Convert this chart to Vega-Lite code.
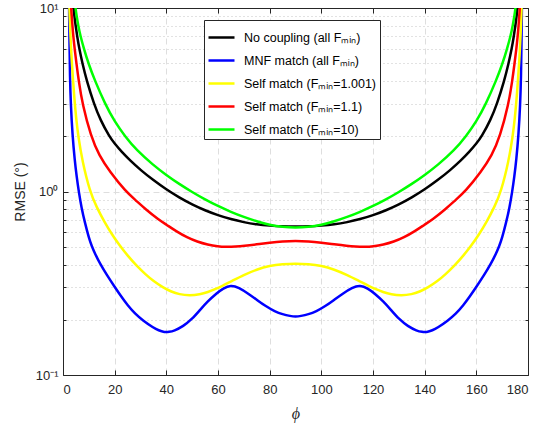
{
 "$schema": "https://vega.github.io/schema/vega-lite/v6.json",
 "width": 465, "height": 367,
 "autosize": {"type": "none"},
 "padding": {"left": 63, "top": 8, "right": 11, "bottom": 48},
 "background": "white",
 "config": {"view": {"stroke": null}, "font": "Liberation Sans"},
 "data": {"values": [
  {"s":"nc","x":3.3,"y":13},{"s":"nc","x":4,"y":10.3},{"s":"nc","x":4.4,"y":9},{"s":"nc","x":4.9,"y":8},{"s":"nc","x":5.5,"y":7},{"s":"nc","x":6.3,"y":6},{"s":"nc","x":7.5,"y":5},{"s":"nc","x":9.2,"y":4},{"s":"nc","x":12,"y":3},{"s":"nc","x":14.5,"y":2.45},{"s":"nc","x":17.9,"y":2.0},{"s":"nc","x":20,"y":1.824},{"s":"nc","x":22.7,"y":1.646},{"s":"nc","x":26,"y":1.475},{"s":"nc","x":30,"y":1.311},{"s":"nc","x":35,"y":1.151},{"s":"nc","x":40,"y":1.026},{"s":"nc","x":45,"y":0.927},{"s":"nc","x":50,"y":0.849},{"s":"nc","x":55,"y":0.789},{"s":"nc","x":60,"y":0.742},{"s":"nc","x":65,"y":0.706},{"s":"nc","x":70,"y":0.68},{"s":"nc","x":75,"y":0.661},{"s":"nc","x":80,"y":0.651},{"s":"nc","x":85,"y":0.645},{"s":"nc","x":90,"y":0.644},
  {"s":"nc","x":95,"y":0.645},{"s":"nc","x":100,"y":0.651},{"s":"nc","x":105,"y":0.661},{"s":"nc","x":110,"y":0.68},{"s":"nc","x":115,"y":0.706},{"s":"nc","x":120,"y":0.742},{"s":"nc","x":125,"y":0.789},{"s":"nc","x":130,"y":0.849},{"s":"nc","x":135,"y":0.927},{"s":"nc","x":140,"y":1.026},{"s":"nc","x":145,"y":1.151},{"s":"nc","x":150,"y":1.311},{"s":"nc","x":154,"y":1.475},{"s":"nc","x":157.3,"y":1.646},{"s":"nc","x":160,"y":1.824},{"s":"nc","x":162.1,"y":2.0},{"s":"nc","x":165.5,"y":2.45},{"s":"nc","x":168,"y":3},{"s":"nc","x":170.8,"y":4},{"s":"nc","x":172.5,"y":5},{"s":"nc","x":173.7,"y":6},{"s":"nc","x":174.5,"y":7},{"s":"nc","x":175.1,"y":8},{"s":"nc","x":175.6,"y":9},{"s":"nc","x":176,"y":10.3},{"s":"nc","x":176.7,"y":13},

  {"s":"mnf","x":2.3,"y":12},{"s":"mnf","x":2.5,"y":6.5},{"s":"mnf","x":2.7,"y":4.2},{"s":"mnf","x":3.0,"y":3.0},{"s":"mnf","x":3.7,"y":2.0},{"s":"mnf","x":4.5,"y":1.5},{"s":"mnf","x":5.3,"y":1.2},{"s":"mnf","x":6.1,"y":1.0},{"s":"mnf","x":7.2,"y":0.81},{"s":"mnf","x":8.5,"y":0.675},{"s":"mnf","x":10,"y":0.56},{"s":"mnf","x":11.1,"y":0.505},{"s":"mnf","x":12.5,"y":0.455},{"s":"mnf","x":14.3,"y":0.405},{"s":"mnf","x":17,"y":0.35},{"s":"mnf","x":20,"y":0.302},{"s":"mnf","x":22.5,"y":0.268},{"s":"mnf","x":25,"y":0.24},{"s":"mnf","x":28,"y":0.215},{"s":"mnf","x":31,"y":0.198},{"s":"mnf","x":35,"y":0.181},{"s":"mnf","x":37,"y":0.175},{"s":"mnf","x":39.3,"y":0.171},{"s":"mnf","x":41,"y":0.1715},{"s":"mnf","x":43,"y":0.174},{"s":"mnf","x":46.5,"y":0.184},{"s":"mnf","x":50,"y":0.202},{"s":"mnf","x":53,"y":0.226},{"s":"mnf","x":56,"y":0.252},{"s":"mnf","x":59.5,"y":0.279},{"s":"mnf","x":62,"y":0.297},{"s":"mnf","x":65,"y":0.309},{"s":"mnf","x":68,"y":0.3},{"s":"mnf","x":72,"y":0.276},{"s":"mnf","x":75,"y":0.257},{"s":"mnf","x":78.5,"y":0.237},{"s":"mnf","x":82,"y":0.222},{"s":"mnf","x":85,"y":0.214},{"s":"mnf","x":88,"y":0.2095},{"s":"mnf","x":90,"y":0.208},
  {"s":"mnf","x":92,"y":0.2095},{"s":"mnf","x":95,"y":0.214},{"s":"mnf","x":98,"y":0.222},{"s":"mnf","x":101.5,"y":0.237},{"s":"mnf","x":105,"y":0.257},{"s":"mnf","x":108,"y":0.276},{"s":"mnf","x":112,"y":0.3},{"s":"mnf","x":115,"y":0.309},{"s":"mnf","x":118,"y":0.297},{"s":"mnf","x":120.5,"y":0.279},{"s":"mnf","x":124,"y":0.252},{"s":"mnf","x":127,"y":0.226},{"s":"mnf","x":130,"y":0.202},{"s":"mnf","x":133.5,"y":0.184},{"s":"mnf","x":137,"y":0.174},{"s":"mnf","x":139,"y":0.1715},{"s":"mnf","x":140.7,"y":0.171},{"s":"mnf","x":143,"y":0.175},{"s":"mnf","x":145,"y":0.181},{"s":"mnf","x":149,"y":0.198},{"s":"mnf","x":152,"y":0.215},{"s":"mnf","x":155,"y":0.24},{"s":"mnf","x":157.5,"y":0.268},{"s":"mnf","x":160,"y":0.302},{"s":"mnf","x":163,"y":0.35},{"s":"mnf","x":165.7,"y":0.405},{"s":"mnf","x":167.5,"y":0.455},{"s":"mnf","x":168.9,"y":0.505},{"s":"mnf","x":170,"y":0.56},{"s":"mnf","x":171.5,"y":0.675},{"s":"mnf","x":172.8,"y":0.81},{"s":"mnf","x":173.9,"y":1.0},{"s":"mnf","x":174.7,"y":1.2},{"s":"mnf","x":175.5,"y":1.5},{"s":"mnf","x":176.3,"y":2.0},{"s":"mnf","x":177,"y":3.0},{"s":"mnf","x":177.3,"y":4.2},{"s":"mnf","x":177.5,"y":6.5},{"s":"mnf","x":177.7,"y":12},

  {"s":"y1","x":2.2,"y":13},{"s":"y1","x":2.45,"y":10.3},{"s":"y1","x":2.6,"y":8.9},{"s":"y1","x":2.8,"y":7.5},{"s":"y1","x":3.1,"y":6.1},{"s":"y1","x":3.4,"y":5.1},{"s":"y1","x":3.8,"y":4.2},{"s":"y1","x":4.4,"y":3.2},{"s":"y1","x":5.1,"y":2.5},{"s":"y1","x":5.9,"y":2.0},{"s":"y1","x":7.5,"y":1.46},{"s":"y1","x":10.4,"y":1.0},{"s":"y1","x":13,"y":0.822},{"s":"y1","x":16.2,"y":0.676},{"s":"y1","x":19,"y":0.582},{"s":"y1","x":22,"y":0.506},{"s":"y1","x":25,"y":0.447},{"s":"y1","x":28.4,"y":0.395},{"s":"y1","x":32,"y":0.353},{"s":"y1","x":35,"y":0.325},{"s":"y1","x":38.7,"y":0.3},{"s":"y1","x":42,"y":0.284},{"s":"y1","x":45,"y":0.275},{"s":"y1","x":49,"y":0.271},{"s":"y1","x":53,"y":0.2748},{"s":"y1","x":56,"y":0.2825},{"s":"y1","x":59.5,"y":0.296},{"s":"y1","x":62,"y":0.308},{"s":"y1","x":65,"y":0.323},{"s":"y1","x":70,"y":0.351},{"s":"y1","x":75,"y":0.376},{"s":"y1","x":80,"y":0.394},{"s":"y1","x":85,"y":0.402},{"s":"y1","x":90,"y":0.405},
  {"s":"y1","x":95,"y":0.402},{"s":"y1","x":100,"y":0.394},{"s":"y1","x":105,"y":0.376},{"s":"y1","x":110,"y":0.351},{"s":"y1","x":115,"y":0.323},{"s":"y1","x":118,"y":0.308},{"s":"y1","x":120.5,"y":0.296},{"s":"y1","x":124,"y":0.2825},{"s":"y1","x":127,"y":0.2748},{"s":"y1","x":131,"y":0.271},{"s":"y1","x":135,"y":0.275},{"s":"y1","x":138,"y":0.284},{"s":"y1","x":141.3,"y":0.3},{"s":"y1","x":145,"y":0.325},{"s":"y1","x":148,"y":0.353},{"s":"y1","x":151.6,"y":0.395},{"s":"y1","x":155,"y":0.447},{"s":"y1","x":158,"y":0.506},{"s":"y1","x":161,"y":0.582},{"s":"y1","x":163.8,"y":0.676},{"s":"y1","x":167,"y":0.822},{"s":"y1","x":169.6,"y":1.0},{"s":"y1","x":172.5,"y":1.46},{"s":"y1","x":174.1,"y":2.0},{"s":"y1","x":174.9,"y":2.5},{"s":"y1","x":175.6,"y":3.2},{"s":"y1","x":176.2,"y":4.2},{"s":"y1","x":176.6,"y":5.1},{"s":"y1","x":176.9,"y":6.1},{"s":"y1","x":177.2,"y":7.5},{"s":"y1","x":177.4,"y":8.9},{"s":"y1","x":177.55,"y":10.3},{"s":"y1","x":177.8,"y":13},

  {"s":"r1","x":2.8,"y":13},{"s":"r1","x":3.1,"y":10.3},{"s":"r1","x":3.4,"y":9},{"s":"r1","x":3.65,"y":8},{"s":"r1","x":4.0,"y":7},{"s":"r1","x":4.5,"y":6},{"s":"r1","x":5.2,"y":5},{"s":"r1","x":6.1,"y":4},{"s":"r1","x":7.5,"y":3},{"s":"r1","x":10.8,"y":2},{"s":"r1","x":14,"y":1.567},{"s":"r1","x":18.2,"y":1.278},{"s":"r1","x":24.3,"y":1.0},{"s":"r1","x":28,"y":0.9},{"s":"r1","x":32,"y":0.8},{"s":"r1","x":37,"y":0.703},{"s":"r1","x":40,"y":0.66},{"s":"r1","x":44,"y":0.605},{"s":"r1","x":48,"y":0.562},{"s":"r1","x":52,"y":0.532},{"s":"r1","x":56,"y":0.513},{"s":"r1","x":60,"y":0.502},{"s":"r1","x":63,"y":0.499},{"s":"r1","x":67,"y":0.501},{"s":"r1","x":70,"y":0.505},{"s":"r1","x":75,"y":0.515},{"s":"r1","x":80,"y":0.526},{"s":"r1","x":85,"y":0.535},{"s":"r1","x":90,"y":0.539},
  {"s":"r1","x":95,"y":0.535},{"s":"r1","x":100,"y":0.526},{"s":"r1","x":105,"y":0.515},{"s":"r1","x":110,"y":0.505},{"s":"r1","x":113,"y":0.501},{"s":"r1","x":117,"y":0.499},{"s":"r1","x":120,"y":0.502},{"s":"r1","x":124,"y":0.513},{"s":"r1","x":128,"y":0.532},{"s":"r1","x":132,"y":0.562},{"s":"r1","x":136,"y":0.605},{"s":"r1","x":140,"y":0.66},{"s":"r1","x":143,"y":0.703},{"s":"r1","x":148,"y":0.8},{"s":"r1","x":152,"y":0.9},{"s":"r1","x":155.7,"y":1.0},{"s":"r1","x":161.8,"y":1.278},{"s":"r1","x":166,"y":1.567},{"s":"r1","x":169.2,"y":2},{"s":"r1","x":172.5,"y":3},{"s":"r1","x":173.9,"y":4},{"s":"r1","x":174.8,"y":5},{"s":"r1","x":175.5,"y":6},{"s":"r1","x":176,"y":7},{"s":"r1","x":176.35,"y":8},{"s":"r1","x":176.6,"y":9},{"s":"r1","x":176.9,"y":10.3},{"s":"r1","x":177.2,"y":13},

  {"s":"g1","x":4.2,"y":13},{"s":"g1","x":4.8,"y":10},{"s":"g1","x":5.3,"y":9},{"s":"g1","x":5.9,"y":8},{"s":"g1","x":6.8,"y":7},{"s":"g1","x":8.1,"y":6},{"s":"g1","x":9.8,"y":5},{"s":"g1","x":12.4,"y":4},{"s":"g1","x":16.3,"y":3},{"s":"g1","x":20,"y":2.4},{"s":"g1","x":24,"y":2.0},{"s":"g1","x":28.5,"y":1.677},{"s":"g1","x":35,"y":1.391},{"s":"g1","x":40,"y":1.228},{"s":"g1","x":45,"y":1.098},{"s":"g1","x":50,"y":0.993},{"s":"g1","x":55,"y":0.905},{"s":"g1","x":60,"y":0.833},{"s":"g1","x":65,"y":0.774},{"s":"g1","x":70,"y":0.726},{"s":"g1","x":75,"y":0.688},{"s":"g1","x":80,"y":0.657},{"s":"g1","x":85,"y":0.64},{"s":"g1","x":90,"y":0.634},
  {"s":"g1","x":95,"y":0.64},{"s":"g1","x":100,"y":0.657},{"s":"g1","x":105,"y":0.688},{"s":"g1","x":110,"y":0.726},{"s":"g1","x":115,"y":0.774},{"s":"g1","x":120,"y":0.833},{"s":"g1","x":125,"y":0.905},{"s":"g1","x":130,"y":0.993},{"s":"g1","x":135,"y":1.098},{"s":"g1","x":140,"y":1.228},{"s":"g1","x":145,"y":1.391},{"s":"g1","x":151.5,"y":1.677},{"s":"g1","x":156,"y":2.0},{"s":"g1","x":160,"y":2.4},{"s":"g1","x":163.7,"y":3},{"s":"g1","x":167.6,"y":4},{"s":"g1","x":170.2,"y":5},{"s":"g1","x":171.9,"y":6},{"s":"g1","x":173.2,"y":7},{"s":"g1","x":174.1,"y":8},{"s":"g1","x":174.7,"y":9},{"s":"g1","x":175.2,"y":10},{"s":"g1","x":175.8,"y":13}
 ]},
 "layer": [
  {
   "mark": {"type": "line", "strokeWidth": 2.5, "clip": true, "interpolate": "basis"},
   "encoding": {
    "x": {"field": "x", "type": "quantitative",
      "scale": {"domain": [0, 180], "nice": false, "zero": false},
      "axis": {"orient": "bottom", "values": [0,20,40,60,80,100,120,140,160,180],
        "grid": true, "gridColor": "#dedede", "gridDash": [6,4], "gridWidth": 1,
        "domainColor": "#262626", "tickColor": "#262626", "tickSize": -5,
        "labelFont": "Liberation Sans", "labelFontSize": 13, "labelColor": "#262626", "labelPadding": 13,
        "title": "ϕ", "titleFont": "Liberation Serif", "titleFontStyle": "italic", "titleFontWeight": "normal",
        "titleFontSize": 16, "titleColor": "#262626", "titlePadding": 9}},
    "y": {"field": "y", "type": "quantitative",
      "scale": {"type": "log", "domain": [0.1, 10], "nice": false},
      "axis": {"orient": "left", "values": [0.1,0.2,0.3,0.4,0.5,0.6,0.7,0.8,0.9,1,2,3,4,5,6,7,8,9,10],
        "labelExpr": "datum.value === 10 ? '10¹' : datum.value === 1 ? '10⁰' : datum.value === 0.1 ? '10⁻¹' : ''",
        "grid": true,
        "gridColor": {"condition": {"test": "datum.value === 1 || datum.value === 10 || datum.value === 0.1", "value": "#dedede"}, "value": "#c4c4c4"},
        "gridDash": {"condition": {"test": "datum.value === 1 || datum.value === 10 || datum.value === 0.1", "value": [6,4]}, "value": [1,3]},
        "tickSize": {"condition": {"test": "datum.value === 1 || datum.value === 10 || datum.value === 0.1", "value": -5}, "value": -3},
        "domainColor": "#262626", "tickColor": "#262626",
        "labelFont": "Liberation Sans", "labelFontSize": 13, "labelColor": "#262626", "labelPadding": 10,
        "title": "RMSE (°)", "titleFont": "Liberation Sans", "titleFontWeight": "normal", "titleFontSize": 14,
        "titleColor": "#262626", "titlePadding": 8}},
    "color": {"field": "s", "type": "nominal",
      "scale": {"domain": ["nc","mnf","y1","r1","g1"], "range": ["#000000","#0000ff","#ffff00","#ff0000","#00ff00"]},
      "legend": {"orient": "none", "legendX": 141, "legendY": 12, "title": null, "direction": "vertical",
        "symbolType": "stroke", "symbolStrokeWidth": 2.5, "symbolSize": 676,
        "labelFont": "Liberation Sans", "labelFontSize": 12.5, "labelColor": "#000000", "labelLimit": 300, "labelOffset": 8,
        "strokeColor": "#262626", "fillColor": "white", "padding": 3, "rowPadding": 2,
        "labelExpr": "datum.label == 'nc' ? 'No coupling (all Fₘᵢₙ)' : datum.label == 'mnf' ? 'MNF match (all Fₘᵢₙ)' : datum.label == 'y1' ? 'Self match (Fₘᵢₙ=1.001)' : datum.label == 'r1' ? 'Self match (Fₘᵢₙ=1.1)' : 'Self match (Fₘᵢₙ=10)'"}}
   }
  },
  {
   "mark": {"type": "point", "opacity": 0, "clip": true},
   "encoding": {
    "x": {"field": "x", "type": "quantitative",
      "axis": {"orient": "top", "values": [0,20,40,60,80,100,120,140,160,180], "labels": false, "grid": false,
        "domainColor": "#262626", "tickColor": "#262626", "tickSize": -5, "title": null}},
    "y": {"field": "y", "type": "quantitative",
      "axis": {"orient": "right", "values": [0.1,0.2,0.3,0.4,0.5,0.6,0.7,0.8,0.9,1,2,3,4,5,6,7,8,9,10], "labels": false, "grid": false,
        "tickSize": {"condition": {"test": "datum.value === 1 || datum.value === 10 || datum.value === 0.1", "value": -5}, "value": -3},
        "domainColor": "#262626", "tickColor": "#262626", "title": null}}
   }
  }
 ],
 "resolve": {"axis": {"x": "independent", "y": "independent"}}
}
